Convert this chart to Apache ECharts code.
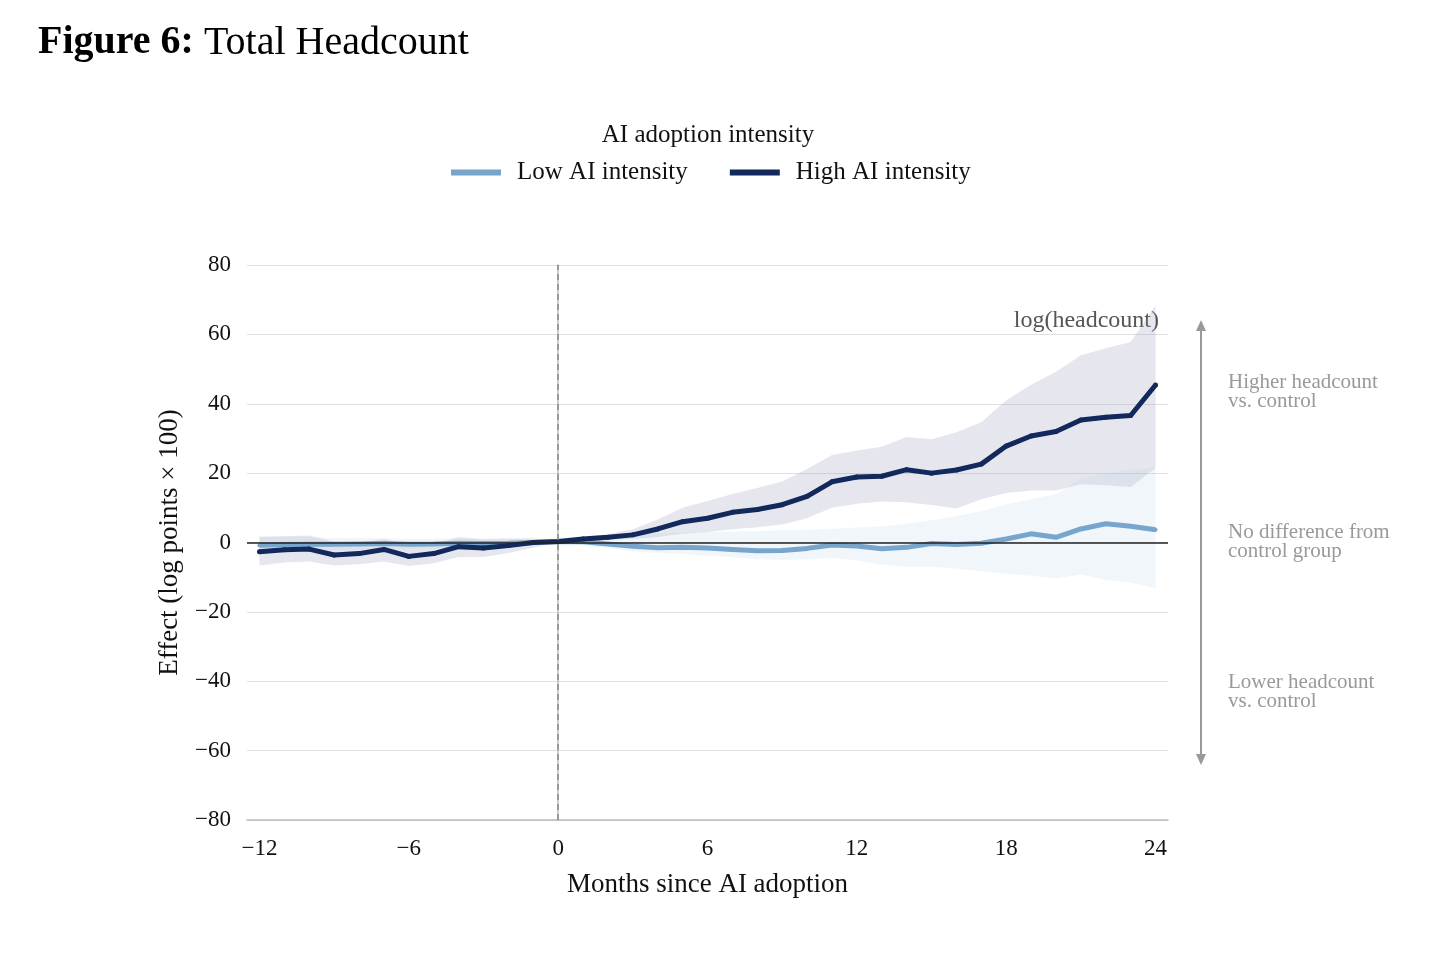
<!DOCTYPE html>
<html>
<head>
<meta charset="utf-8">
<title>Total Headcount</title>
<script src="https://cdn.jsdelivr.net/npm/echarts@6/dist/echarts.min.js"></script>
<style>
  html, body { margin: 0; padding: 0; background: #fff; }
  #chart { width: 1456px; height: 978px; }
</style>
</head>
<body>
<div id="chart"></div>
<script>
// months since AI adoption
const months = [-12, -11, -10, -9, -8, -7, -6, -5, -4, -3, -2, -1, 0, 1, 2, 3, 4, 5, 6, 7, 8, 9, 10, 11, 12, 13, 14, 15, 16, 17, 18, 19, 20, 21, 22, 23, 24];
const xTicks = [-12, -6, 0, 6, 12, 18, 24];

// High AI intensity: estimate and confidence band
const high = [-2.7, -2.1, -1.9, -3.6, -3.2, -2.0, -4.0, -3.2, -1.2, -1.6, -0.9, 0.0, 0.3, 1.0, 1.5, 2.2, 3.9, 6.0, 7.0, 8.7, 9.5, 10.9, 13.3, 17.5, 18.9, 19.1, 21.0, 20.0, 20.9, 22.6, 27.8, 30.7, 32.0, 35.3, 36.1, 36.6, 45.4];
const highLower = [-6.6, -5.8, -5.5, -6.6, -6.3, -5.5, -6.8, -6.0, -4.2, -4.2, -3.0, -1.5, 0.3, 0.5, 0.8, 1.0, 1.6, 2.5, 3.0, 3.8, 4.4, 5.2, 7.0, 10.0, 11.2, 11.8, 11.6, 10.8, 9.8, 12.5, 14.3, 15.0, 15.0, 16.8, 16.5, 16.0, 21.5];
const highUpper = [1.6, 1.8, 2.0, 0.2, 0.0, 1.0, -0.8, -0.4, 1.6, 1.0, 1.2, 1.2, 0.3, 1.6, 2.4, 3.8, 6.6, 10.0, 12.0, 14.0, 15.7, 17.6, 21.2, 25.2, 26.5, 27.6, 30.4, 29.8, 31.8, 34.7, 41.0, 45.5, 49.2, 54.0, 56.0, 57.8, 68.3];

// Low AI intensity: estimate and confidence band
const low = [-0.8, -0.6, -0.5, -0.5, -0.4, -0.3, -0.5, -0.4, -0.2, -0.3, -0.2, 0.0, 0.2, 0.2, -0.4, -1.1, -1.5, -1.4, -1.6, -2.0, -2.4, -2.3, -1.7, -0.7, -1.0, -1.8, -1.4, -0.3, -0.6, -0.2, 1.0, 2.5, 1.5, 3.9, 5.4, 4.7, 3.7];
const lowLower = [-2.5, -2.3, -2.2, -2.2, -2.1, -1.9, -2.0, -1.9, -1.6, -1.5, -1.2, -0.8, 0.2, -0.8, -1.6, -2.5, -3.0, -3.3, -3.8, -4.2, -4.8, -5.0, -4.8, -4.5, -5.2, -6.4, -7.0, -7.0, -7.5, -8.3, -9.0, -9.6, -10.4, -9.2, -10.8, -11.5, -13.2];
const lowUpper = [1.8, 1.7, 1.6, 1.3, 1.3, 1.3, 1.0, 1.1, 1.2, 0.9, 0.8, 0.8, 0.2, 1.2, 1.6, 2.2, 2.6, 2.8, 3.0, 3.1, 3.3, 3.5, 3.7, 4.0, 4.3, 4.6, 5.4, 6.4, 7.6, 9.0, 11.0, 12.5, 14.0, 18.5, 20.0, 21.0, 21.5];

const FONT = 'Liberation Serif';
const LOW_COLOR = '#78a5cb';
const HIGH_COLOR = '#13295b';

function minus(v) {
  return String(v).replace('-', '\u2212');
}

// confidence band drawn as one polygon through the axis scales
function band(upper, lower, color) {
  return {
    type: 'custom',
    silent: true,
    clip: true,
    data: [0],
    z: 1,
    renderItem: function (params, api) {
      const pts = [];
      months.forEach((m, i) => pts.push(api.coord([m, upper[i]])));
      for (let i = months.length - 1; i >= 0; i--) {
        pts.push(api.coord([months[i], lower[i]]));
      }
      return {
        type: 'polygon',
        shape: { points: pts },
        style: { fill: color }
      };
    }
  };
}

const chart = echarts.init(document.getElementById('chart'));

const option = {
  animation: false,
  backgroundColor: '#fff',
  title: [
    {
      text: '{b|Figure 6:}{r| Total Headcount}',
      left: 33,
      top: 18,
      textStyle: {
        rich: {
          b: { fontFamily: FONT, fontSize: 40, fontWeight: 'bold', color: '#000' },
          r: { fontFamily: FONT, fontSize: 40, fontWeight: 'normal', color: '#000' }
        }
      }
    },
    {
      text: 'AI adoption intensity',
      left: 703,
      textAlign: 'center',
      top: 118,
      textStyle: { fontFamily: FONT, fontSize: 25, fontWeight: 'normal', color: '#111' }
    }
  ],
  legend: {
    left: 446,
    top: 155,
    icon: 'rect',
    itemWidth: 50,
    itemHeight: 6,
    itemGap: 42,
    textStyle: { fontFamily: FONT, fontSize: 25, color: '#111', padding: [0, 0, 0, 11] },
    data: ['Low AI intensity', 'High AI intensity']
  },
  grid: { left: 247, right: 288, top: 265, bottom: 158 },
  xAxis: {
    type: 'value',
    min: -12.5,
    max: 24.5,
    name: 'Months since AI adoption',
    nameLocation: 'middle',
    nameGap: 51,
    nameTextStyle: { fontFamily: FONT, fontSize: 27, color: '#111' },
    axisLine: { onZero: false, lineStyle: { color: '#bbbbbb', width: 1.5 } },
    axisTick: { show: false },
    splitLine: { show: false },
    axisLabel: {
      customValues: xTicks,
      margin: 17,
      fontFamily: FONT,
      fontSize: 23,
      color: '#111',
      formatter: minus
    }
  },
  yAxis: {
    type: 'value',
    min: -80,
    max: 80,
    interval: 20,
    name: 'Effect (log points \u00d7 100)',
    nameLocation: 'middle',
    nameGap: 64,
    nameTextStyle: { fontFamily: FONT, fontSize: 27, color: '#111' },
    axisLine: { show: true, lineStyle: { color: '#bbbbbb', width: 1.5 } },
    axisTick: { show: false },
    splitLine: { lineStyle: { color: '#e0e0e0', width: 1.2 } },
    axisLabel: {
      margin: 16,
      fontFamily: FONT,
      fontSize: 23,
      color: '#111',
      formatter: minus
    }
  },
  series: [
    band(highUpper, highLower, 'rgba(150, 156, 185, 0.24)'),
    band(lowUpper, lowLower, 'rgba(170, 200, 232, 0.16)'),
    {
      name: 'Low AI intensity',
      type: 'line',
      z: 3,
      data: months.map((m, i) => [m, low[i]]),
      symbol: 'circle',
      symbolSize: 4,
      lineStyle: { color: LOW_COLOR, width: 5 },
      itemStyle: { color: LOW_COLOR },
      markLine: {
        silent: true,
        symbol: 'none',
        label: { show: false },
        data: [
          { yAxis: 0, lineStyle: { color: '#222', width: 1.5, type: 'solid' } },
          { xAxis: 0, lineStyle: { color: '#888', width: 1.5, type: [6, 4] } }
        ]
      }
    },
    {
      name: 'High AI intensity',
      type: 'line',
      z: 4,
      data: months.map((m, i) => [m, high[i]]),
      symbol: 'circle',
      symbolSize: 5,
      lineStyle: { color: HIGH_COLOR, width: 5 },
      itemStyle: { color: HIGH_COLOR }
    }
  ],
  graphic: [
    {
      type: 'text',
      right: 1456 - 1159,
      top: 309,
      style: { text: 'log(headcount)', fontFamily: FONT, fontSize: 24, fill: '#555', textAlign: 'right' }
    },
    {
      type: 'line',
      shape: { x1: 1201, y1: 326, x2: 1201, y2: 758 },
      style: { stroke: '#999', lineWidth: 2 }
    },
    {
      type: 'polygon',
      shape: { points: [[1201, 320], [1196, 331], [1206, 331]] },
      style: { fill: '#999' }
    },
    {
      type: 'polygon',
      shape: { points: [[1201, 765], [1196, 754], [1206, 754]] },
      style: { fill: '#999' }
    },
    {
      type: 'text',
      left: 1228,
      top: 372,
      style: { text: 'Higher headcount\nvs. control', fontFamily: FONT, fontSize: 21, lineHeight: 19, fill: '#999' }
    },
    {
      type: 'text',
      left: 1228,
      top: 522,
      style: { text: 'No difference from\ncontrol group', fontFamily: FONT, fontSize: 21, lineHeight: 19, fill: '#999' }
    },
    {
      type: 'text',
      left: 1228,
      top: 672,
      style: { text: 'Lower headcount\nvs. control', fontFamily: FONT, fontSize: 21, lineHeight: 19, fill: '#999' }
    }
  ]
};

chart.setOption(option);
</script>
</body>
</html>
